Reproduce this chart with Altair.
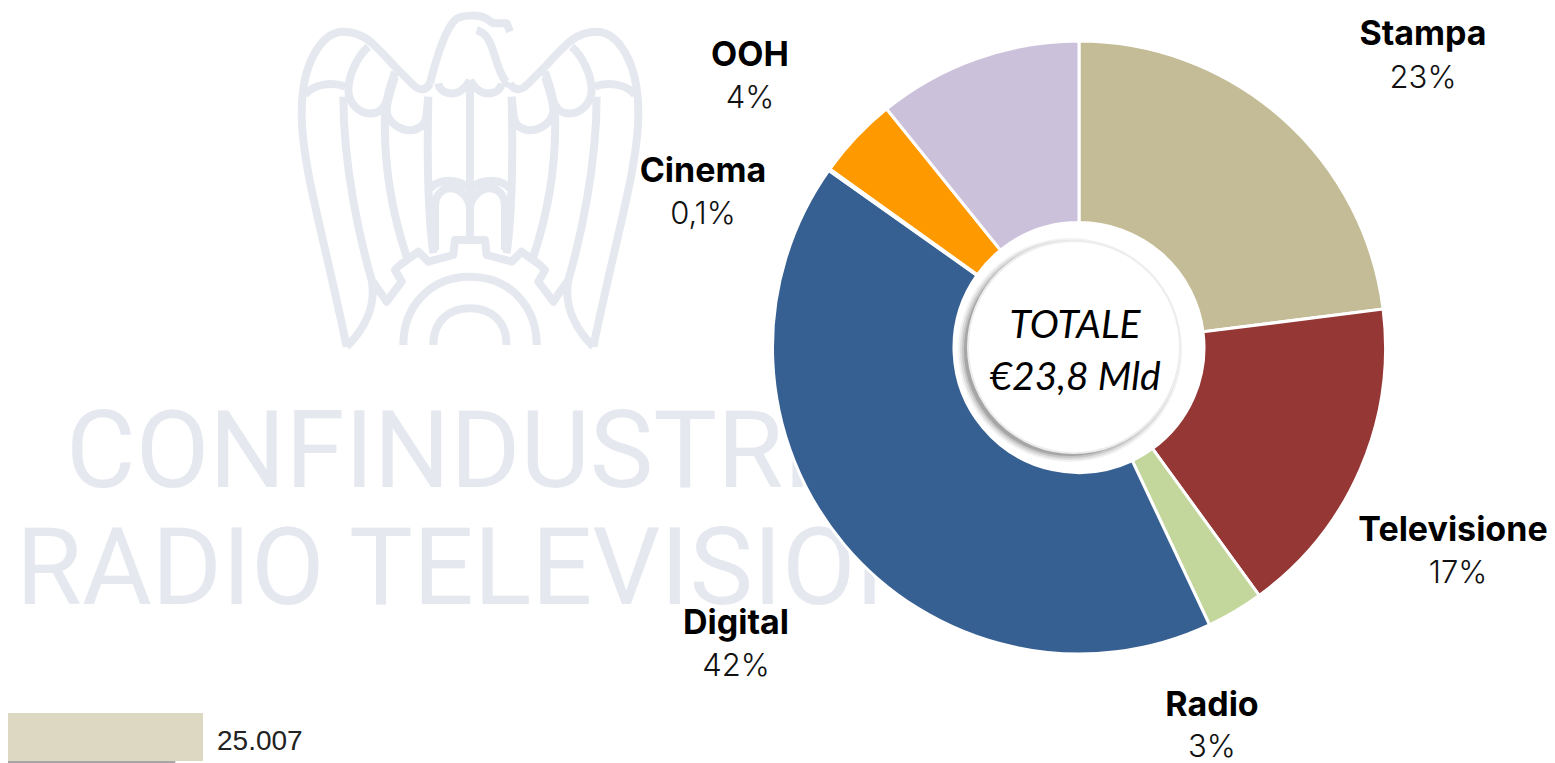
import math
import re
import altair as alt
import pandas as pd

# ---- data ----
categories = ["Stampa", "Televisione", "Radio", "Digital", "Cinema", "OOH", "Altro"]
shares = [23.0, 17.0, 3.0, 41.8, 0.1, 4.3, 10.8]
slice_colors = ["#C4BC96", "#953735", "#C3D69B", "#376092", "#FF9900", "#FF9900", "#CCC1DA"]
label_names = ["Stampa", "Televisione", "Radio", "Digital", "Cinema", "OOH"]
label_values = ["23%", "17%", "3%", "42%", "0,1%", "4%"]
center_lines = ["TOTALE", "€23,8 Mld"]
watermark_lines = ["CONFINDUSTRIA", "RADIO TELEVISIONI"]
bar_names = ["A", "B"]
bar_values = [25007, 21600]
bar_colors = ["#DDD8C2", "#A6A6A6"]
bar_text = "25.007"

# ---- layout (page pixels) ----
W, H = 1539, 755
def X(v): return v - 8
def Y(v): return v - 8
CX, CY = 1079, 347.5
name_pos = [(1423, 35), (1453, 531), (1212, 706), (736, 624), (703, 172), (750, 56)]
value_pos = [(1423, 79), (1458, 574), (1212, 748), (736, 667), (703, 215), (750, 99)]
GREY = "#E6E8F0"
LABEL_FONT = "Inter"

# ---- watermark logo, a decoration traced in a 1140x1080 box ----
mirrored = [
    "M200 1040 C130 700 65 500 65 340 C65 180 130 95 190 95 C250 95 280 130 340 195 L400 255 C420 275 440 270 450 250",
    "M190 290 C190 500 240 720 275 840 C290 920 250 990 200 1040",
    "M275 840 L310 890",
    "M75 285 C100 250 160 245 195 260",
    "M265 140 C230 170 205 230 205 270 C205 310 240 345 280 340 C310 335 320 310 325 280 C330 260 340 230 345 215",
    "M345 230 C335 260 320 310 320 330 C320 365 360 395 400 390 C425 385 440 365 440 340 L445 290",
    "M315 340 C310 500 340 650 380 770",
    "M475 250 C480 280 520 290 545 270 C560 260 565 250 570 240",
    "M445 290 C440 500 445 650 460 760",
    "M450 565 C480 535 530 535 570 565",
    "M465 750 L465 620 C465 580 490 565 510 565 C540 565 565 590 570 620",
    "M310 890 L320 905 L365 845 L345 810 L360 795 L415 755 L445 785 L520 765 L525 720 L570 720",
    "M370 1035 C370 920 450 830 570 830",
    "M460 1035 C460 960 510 925 570 925",
]
single = [
    "M450 250 C470 170 495 90 525 60 C540 45 600 40 625 60 L640 70 L680 70 L690 95",
    "M590 90 C620 100 630 120 645 170 C660 220 680 260 690 250",
    "M570 240 L570 710",
]
def to_unit(path, flip=False):
    out, is_x = [], True
    for tok in re.findall(r"[MLC]|-?\d+\.?\d*", path):
        if tok in "MLC":
            out.append(tok); is_x = True
        else:
            v = float(tok)
            if is_x:
                v = (v - 570) / 540 * (-1 if flip else 1)
            else:
                v = (v - 540) / 540
            out.append(f"{v:.4f}")
            is_x = not is_x
    return " ".join(out)
logo_path = " ".join([to_unit(p) for p in mirrored] + [to_unit(p, True) for p in mirrored] + [to_unit(p) for p in single])

dummy = pd.DataFrame({"k": [0]})
def text(t, x, y, **kw):
    return alt.Chart(pd.DataFrame({"t": [t]})).mark_text(**kw).encode(
        x=alt.value(X(x)), y=alt.value(Y(y)), text="t:N")
def disc(x, y, r, **kw):
    return alt.Chart(dummy).mark_circle(size=4 * r * r, opacity=kw.pop("opacity", 1), **kw).encode(
        x=alt.value(X(x)), y=alt.value(Y(y)))

layers = []

# watermark
layers.append(alt.Chart(dummy).mark_point(shape=logo_path, size=360 ** 2, filled=False, stroke=GREY,
                                          strokeWidth=8, opacity=1, strokeCap="butt", strokeJoin="round").encode(
    x=alt.value(X(470)), y=alt.value(Y(180))))
wm = dict(font="Roboto", fontWeight=400, fontSize=107, color=GREY, align="left", baseline="alphabetic")
layers.append(text(watermark_lines[0], 66, 487, **wm))
layers.append(text(watermark_lines[1], 16, 604, **wm))

# bars
bars = pd.DataFrame({"n": bar_names, "v": bar_values, "c": bar_colors})
x_bar = alt.X("v:Q", scale=alt.Scale(domain=[0, 25007], range=[-8, 195]), axis=None)
layers.append(alt.Chart(bars[bars.n == "A"]).mark_bar(color=bar_colors[0]).encode(
    x=x_bar, x2=alt.value(0), y=alt.value(Y(713)), y2=alt.value(Y(761))))
layers.append(alt.Chart(bars[bars.n == "B"]).mark_bar(color=bar_colors[1]).encode(
    x=x_bar, x2=alt.value(0), y=alt.value(Y(761)), y2=alt.value(Y(764))))
layers.append(text(bar_text, 217, 750, font="Liberation Sans", fontSize=28, color="#222222",
                   align="left", baseline="alphabetic"))

# donut
pie = pd.DataFrame({"cat": categories, "v": shares, "i": range(len(shares))})
layers.append(alt.Chart(pie).mark_arc(outerRadius=306.5, innerRadius=125, stroke="white", strokeWidth=3).encode(
    theta=alt.Theta("v:Q", stack=True, scale=alt.Scale(domain=[0, 100], range=[0, 2 * math.pi])),
    order=alt.Order("i:Q"),
    color=alt.Color("cat:N", scale=alt.Scale(domain=categories, range=slice_colors), legend=None),
    x=alt.value(X(CX)), y=alt.value(Y(CY))))

# centre disc with a soft shadow
for r, op in [(112, 0.08), (110, 0.12), (108, 0.18), (106, 0.28)]:
    layers.append(disc(1070, 350, r, color="#555555", opacity=op))
layers.append(disc(1074, 347, 107, color="#EDEDED"))
layers.append(disc(1074, 347, 105, color="#FFFFFF"))
centre = dict(font="Lato", fontStyle="italic", fontSize=39, color="#000000", align="center", baseline="middle")
layers.append(text(center_lines[0], 1075, 326, **centre))
layers.append(text(center_lines[1], 1075, 378, **centre))

# labels
for n, v, np_, vp in zip(label_names, label_values, name_pos, value_pos):
    layers.append(text(n, *np_, font=LABEL_FONT, fontWeight=700, fontSize=34, color="#000000",
                       align="center", baseline="middle"))
    layers.append(text(v, *vp, font=LABEL_FONT, fontWeight=300, fontSize=31, color="#111111",
                       align="center", baseline="middle"))

chart = alt.layer(*layers).properties(
    width=W, height=H, padding=0,
    autosize=alt.AutoSizeParams(type="none"), background="white",
).configure_view(stroke=None)

chart.save("out.html", embed_options={"renderer": "svg", "actions": False})
